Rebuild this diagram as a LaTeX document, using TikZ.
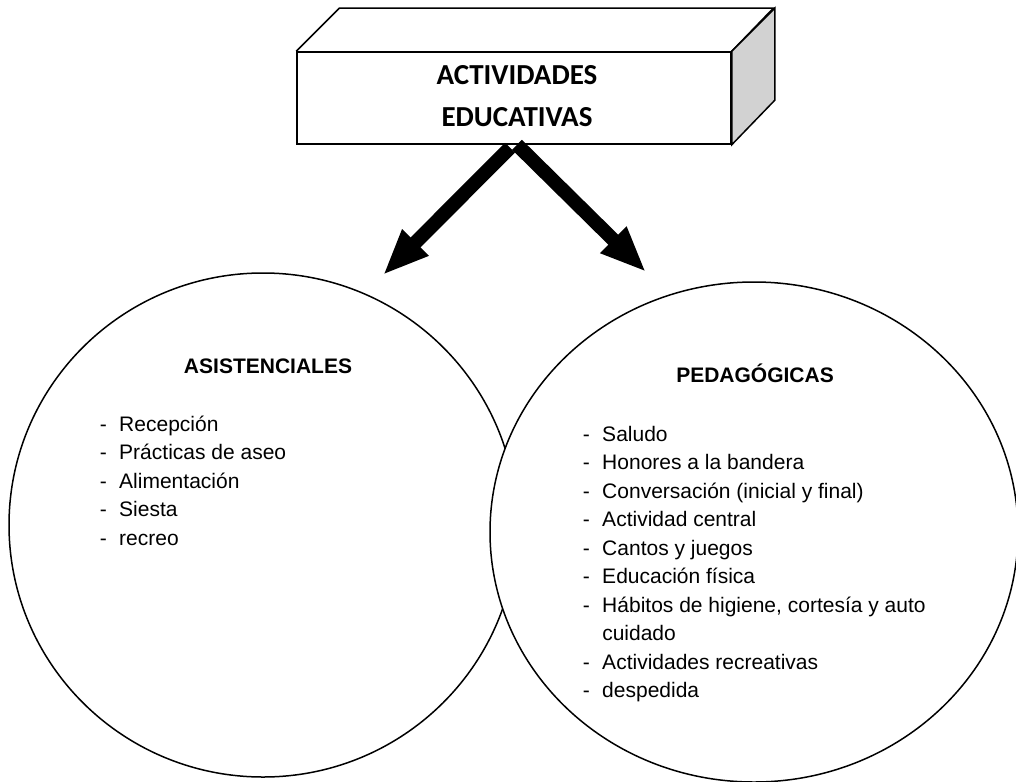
\documentclass[tikz,border=0pt]{standalone}
\usepackage{fontspec}
\setmainfont{Liberation Sans}
\newfontfamily\calibri{Carlito}
\usetikzlibrary{arrows.meta,positioning,shapes.geometric}
\newcommand{\itm}[1]{\makebox[19.5pt][l]{-}#1}

\begin{document}
\begin{tikzpicture}[x=1pt,y=-1pt,line width=1.5pt,font=\fontsize{21}{28.5}\selectfont,
  bigarrow/.style={line width=14pt,-{Triangle[length=46pt,width=34pt]}},
  blob/.style={draw,ellipse,fill=white,inner sep=0pt},
  head/.style={anchor=base,font=\bfseries\fontsize{21}{28.5}\selectfont},
  items/.style={anchor=north west,align=left,inner sep=0pt}]
  \useasboundingbox (0,0) rectangle (1016,781);
  % the two groups
  \node[blob,minimum width=508pt,minimum height=504pt] (asis) at (263,525) {};
  \node[blob,minimum width=528pt,minimum height=500pt] (peda) at (754,532) {};
  \node[head] (asist) at (268,373.5) {ASISTENCIALES};
  \node[head] (pedag) at (755,382.5) {PEDAGÓGICAS};
  \node[items] (listA) at (99,410.5) {\strut\itm{Recepción}\\\itm{Prácticas de aseo}\\\itm{Alimentación}\\\itm{Siesta}\\\itm{recreo}};
  \node[items] (listP) at (582,420.5) {\strut\itm{Saludo}\\\itm{Honores a la bandera}\\\itm{Conversación (inicial y final)}\\\itm{Actividad central}\\\itm{Cantos y juegos}\\\itm{Educación física}\\\itm{Hábitos de higiene, cortesía y auto}\\\makebox[19.5pt]{}cuidado\\\itm{Actividades recreativas}\\\itm{despedida}};
  % 3d box
  \node[draw,fill=white,minimum width=434pt,minimum height=92pt,align=center,text depth=4pt,
    font=\calibri\bfseries\fontsize{29}{42}\selectfont] (act) at (514,98) {\hspace*{6pt}ACTIVIDADES\\\hspace*{6pt}EDUCATIVAS};
  \draw (act.north west) -- ++(43,-43) -- ++(434,0) -- (act.north east);
  \draw[fill=gray!35] (act.north east) -- ++(43,-43) -- ++(0,92) -- (act.south east) -- cycle;
  % arrows
  \coordinate (tipA) at (383,275);
  \coordinate (tipP) at (646,272);
  \draw[bigarrow] ([xshift=-4pt,yshift=-3pt]act.south) -- (tipA);
  \draw[bigarrow] ([xshift=3pt]act.south) -- (tipP);
\end{tikzpicture}
\end{document}
